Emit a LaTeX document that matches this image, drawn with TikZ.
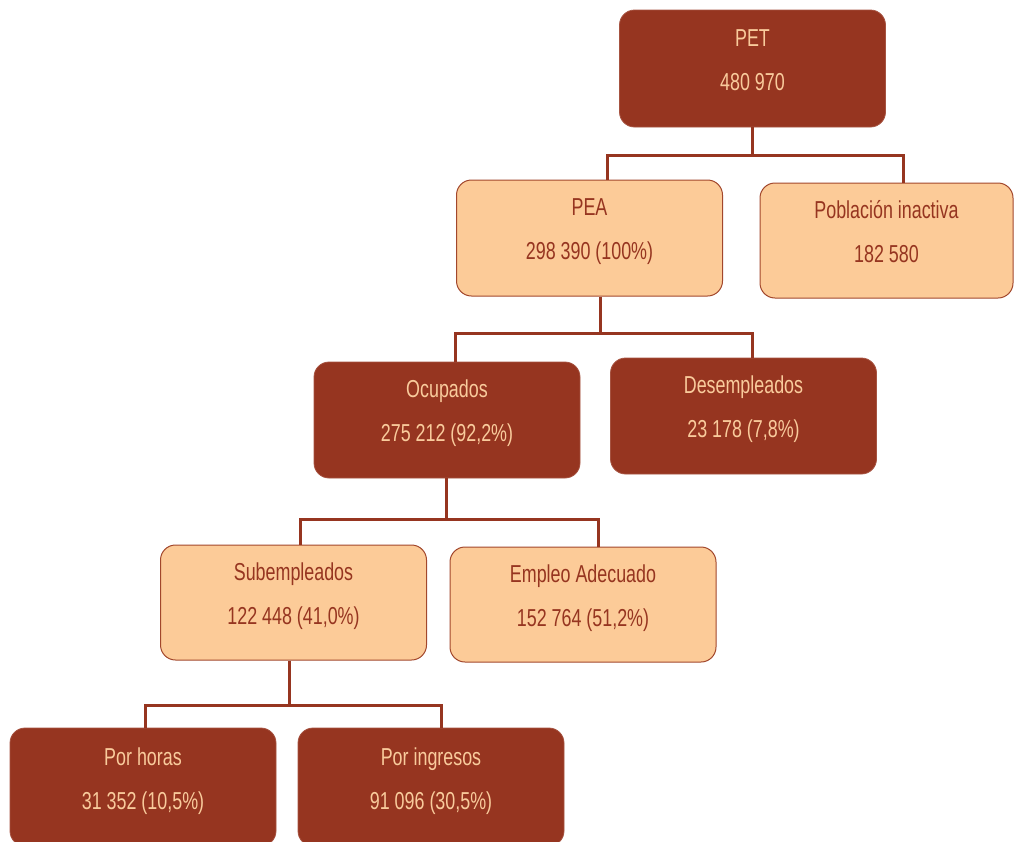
\documentclass[tikz,border=0pt]{standalone}
\usepackage{fontspec}
\setmainfont{Liberation Sans}[FakeStretch=0.73]
\definecolor{darkbox}{HTML}{963520}
\definecolor{lightbox}{HTML}{FCCB98}
\definecolor{lightborder}{HTML}{A2472C}
\definecolor{lighttext}{HTML}{F9CB9C}
\definecolor{darktext}{HTML}{963520}
\newcommand\bx[2]{\begin{tabular}{@{}c@{}}#1\\[16pt]#2\end{tabular}}
\tikzset{
  box/.style={rounded corners=15pt, inner sep=0pt, minimum width=266pt, minimum height=116pt},
  darkb/.style={box, fill=darkbox, draw=darkbox!85!white, line width=0.8pt},
  lightb/.style={box, fill=lightbox, draw=lightborder, line width=1pt},
  dlbl/.style={text=lighttext, yshift=6pt, font=\fontsize{24.5}{28}\selectfont},
  llbl/.style={text=darktext, yshift=6pt, font=\fontsize{24.5}{28}\selectfont},
  conn/.style={draw=darkbox, line width=3pt}
}
\begin{document}
\begin{tikzpicture}[x=1pt,y=-1pt]
\useasboundingbox (0,0) rectangle (1015,841);
% nodes
\node[darkb, minimum height=117pt, label={[dlbl]center:\bx{PET}{480 970}}] (pet) at (752.5,68.5) {};
\node[lightb, label={[llbl]center:\bx{PEA}{298 390 (100\%)}}] (pea) at (589.5,238) {};
\node[lightb, minimum width=253pt, minimum height=115pt, label={[llbl]center:\bx{Población inactiva}{182 580}}] (pob) at (886.5,240.5) {};
\node[darkb, label={[dlbl]center:\bx{Ocupados}{275 212 (92,2\%)}}] (ocu) at (447,420) {};
\node[darkb, label={[dlbl]center:\bx{Desempleados}{23 178 (7,8\%)}}] (des) at (743.5,416) {};
\node[lightb, minimum height=115pt, label={[llbl]center:\bx{Subempleados}{122 448 (41,0\%)}}] (sub) at (293.5,602.5) {};
\node[lightb, minimum height=115pt, label={[llbl]center:\bx{Empleo Adecuado}{152 764 (51,2\%)}}] (emp) at (583,604.5) {};
\node[darkb, minimum height=118pt, label={[dlbl,yshift=-1pt]center:\bx{Por horas}{31 352 (10,5\%)}}] (hor) at (143,787) {};
\node[darkb, minimum height=118pt, label={[dlbl,yshift=-1pt]center:\bx{Por ingresos}{91 096 (30,5\%)}}] (ing) at (431,787) {};
% bus coordinates
\coordinate (b1) at (752,155);
\coordinate (b2) at (600,333);
\coordinate (b3) at (446,519);
\coordinate (b4) at (289,705);
% connectors
\draw[conn] (pet.south) -- (pet.south |- b1);
\draw[conn] ([xshift=17.5pt]pea.north) |- ([xshift=16.5pt]pob.north |- b1) -- ([xshift=16.5pt]pob.north);
\draw[conn] ([xshift=10.5pt]pea.south) -- (b2);
\draw[conn] ([xshift=8pt]ocu.north) |- ([xshift=8.5pt]des.north |- b2) -- ([xshift=8.5pt]des.north);
\draw[conn] ([xshift=-1pt]ocu.south) -- (b3);
\draw[conn] ([xshift=6.5pt]sub.north) |- ([xshift=15pt]emp.north |- b3) -- ([xshift=15pt]emp.north);
\draw[conn] ([xshift=-4.5pt]sub.south) -- (b4);
\draw[conn] ([xshift=2pt]hor.north) |- ([xshift=10pt]ing.north |- b4) -- ([xshift=10pt]ing.north);
\end{tikzpicture}
\end{document}
